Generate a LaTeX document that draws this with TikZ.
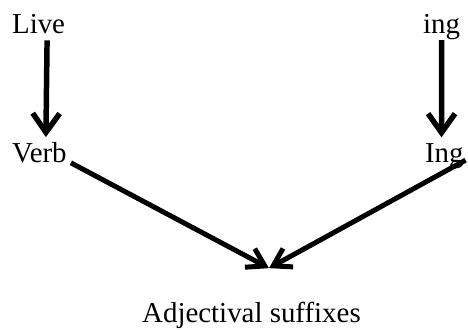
\documentclass[tikz,border=0pt]{standalone}
\usepackage{fontspec}
\setmainfont{Liberation Serif}
\usepackage{tikz}
\usetikzlibrary{arrows.meta, positioning, calc}

\begin{document}
\begin{tikzpicture}[
    word/.style={font=\fontsize{29}{33}\selectfont, inner sep=0pt, anchor=base west},
    downarrow/.style={line width=5.5pt, -{Straight Barb[length=19bp, width=27bp]}},
    mergearrow/.style={line width=5pt, -{Straight Barb[length=17bp, width=21bp]}}
]
        \useasboundingbox (0,0) rectangle (16.51,11.61);

        \node[word, name=live] at(0.42,10.44) {Live};
        \node[word, name=ingsuf] at(14.92,10.44) {ing};
        \node[word, name=verb] at(0.42,5.86) {Verb};
        \node[word, name=ingword] at(14.99,5.86) {Ing};
        \node[word, name=adj] at(5.01,0.25) {Adjectival suffixes};

        \coordinate (tip) at (9.49,2.15);

        \draw[downarrow] ([xshift=0.3cm,yshift=-0.24cm]live.south) -- ([xshift=0.23cm,yshift=0.2cm]verb.north);
        \draw[downarrow] ([yshift=-0.02cm]ingsuf.south) -- ([xshift=-0.1cm,yshift=0.23cm]ingword.north);

        \draw[mergearrow] ([xshift=0.14cm,yshift=0.03cm]verb.south east) -- (tip);
        \draw[mergearrow] ([xshift=0.06cm,yshift=0.1cm]ingword.base east) -- (tip);
\end{tikzpicture}
\end{document}
